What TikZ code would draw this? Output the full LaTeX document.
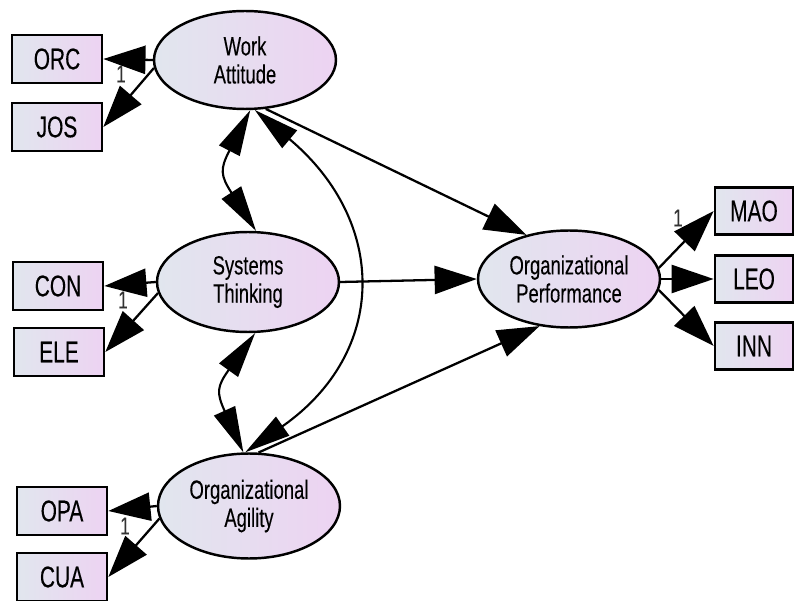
\documentclass[tikz,border=0pt]{standalone}
\usepackage{fontspec}
\setmainfont{Liberation Sans}[FakeStretch=0.7,FakeBold=0.2]
\usepackage{tikz}
\usetikzlibrary{arrows.meta}
\usetikzlibrary{positioning}
\usetikzlibrary{shapes.geometric}
\definecolor{amosleft}{RGB}{225,230,238}
\definecolor{amosright}{RGB}{237,211,242}

\begin{document}
\begin{tikzpicture}[x=0.02cm,y=0.02cm,
	latent/.style={ellipse,draw,line width=1.4pt,left color=amosleft,right color=amosright,
		minimum width=3.64cm,minimum height=1.96cm,inner sep=0pt,align=center,
		font=\fontsize{15}{16}\selectfont},
	obsbox/.style={rectangle,draw,line width=1.5pt,left color=amosleft,right color=amosright,
		minimum width=1.8cm,minimum height=0.96cm,inner sep=0pt,font=\fontsize{17}{18}\selectfont},
	robsbox/.style={obsbox,minimum width=1.56cm,minimum height=0.94cm},
	onelabel/.style={font=\fontsize{14}{14}\selectfont,text=black!80,inner sep=0pt},
	regarrow/.style={line width=1.3pt,-{Triangle[length=24pt,width=16pt]}},
	covarrow/.style={line width=1.2pt,{Triangle[length=26pt,width=13pt]}-{Triangle[length=26pt,width=13pt]}},
	]
	\useasboundingbox (0,0) rectangle (795,-601);
	% latent variables
	\node (wa) [latent] at (245,-60) {Work\\Attitude};
	\node (st) [latent,minimum height=2cm] at (248,-282) {Systems\\Thinking};
	\node (oa) [latent,minimum height=2.1cm] at (249,-506) {Organizational\\Agility};
	\node (op) [latent,minimum height=1.94cm] at (569,-279) {Organizational\\Performance};
	% indicators
	\node (orc) [obsbox] at (57,-59) {ORC};
	\node (jos) [obsbox] at (57,-127) {JOS};
	\node (con) [obsbox] at (58,-286) {CON};
	\node (ele) [obsbox] at (59,-352) {ELE};
	\node (opa) [obsbox] at (62,-511) {OPA};
	\node (cua) [obsbox] at (62,-577) {CUA};
	\node (mao) [robsbox] at (754,-211) {MAO};
	\node (leo) [robsbox] at (754,-279) {LEO};
	\node (inn) [robsbox] at (754,-346) {INN};
	% fixed loadings
	\node (one1) [onelabel] at (121,-74) {1};
	\node (one2) [onelabel] at (123,-300) {1};
	\node (one3) [onelabel] at (125,-526) {1};
	\node (one4) [onelabel] at (678,-218) {1};
	% measurement paths
	\draw [regarrow] (wa.west) -- (orc.east);
	\draw [regarrow] (wa.185) -- (jos.east);
	\draw [regarrow] (st.west) -- (con.east);
	\draw [regarrow] (st.187) -- (ele.east);
	\draw [regarrow] (oa.west) -- (opa.east);
	\draw [regarrow] (oa.188) -- (cua.east);
	\draw [regarrow] (op.7) -- (mao.west);
	\draw [regarrow] (op.east) -- (leo.west);
	\draw [regarrow] (op.-7) -- (inn.west);
	% structural paths
	\draw [regarrow] (wa.-67) -- (op.134);
	\draw [regarrow] (st.east) -- (op.west);
	\draw [regarrow] (oa.80) -- (op.-122);
	% covariances
	\draw [covarrow] (wa.-84) to [bend right=30,looseness=1.4] (st.81);
	\draw [covarrow] (st.-82) to [bend right=30,looseness=1.4] (oa.96);
	\draw [covarrow] (wa.-79) to [out=-40,in=35,looseness=1.3] (oa.94);
\end{tikzpicture}
\end{document}
